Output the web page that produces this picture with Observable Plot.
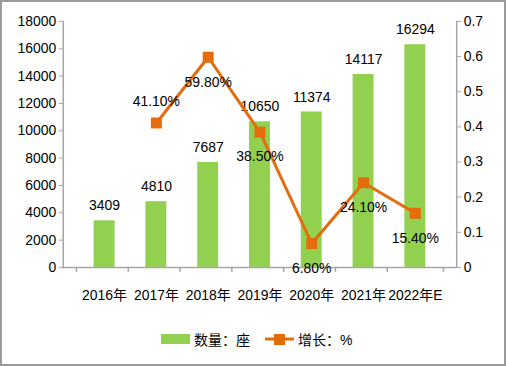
<!DOCTYPE html>
<html><head><meta charset="utf-8">
<script src="https://cdn.jsdelivr.net/npm/d3@7"></script>
<script src="https://cdn.jsdelivr.net/npm/@observablehq/plot@0.6"></script>
<style>
body{margin:0;background:#fff;}
#wrap{position:relative;width:502px;height:362px;border:2px solid #9a9a9a;overflow:hidden;font-family:"Liberation Sans","Noto Sans CJK SC",sans-serif;}
#chart{position:absolute;left:-2px;top:-2px;}
#legend{position:absolute;left:159px;top:327px;display:flex;align-items:center;font-size:14px;color:#000;}
.item{display:flex;align-items:center;}
</style></head>
<body><div id="wrap"><div id="chart"></div>
<div id="legend">
<div class="item"><svg width="30" height="12"><rect x="0" y="1" width="29" height="10" fill="#92D050"/></svg><span style="margin-left:3px">数量：座</span></div>
<div class="item" style="margin-left:14px"><svg width="32" height="14"><line x1="1" y1="7" x2="30" y2="7" stroke="#E46C0A" stroke-width="3"/><rect x="10" y="2" width="11" height="11" fill="#E46C0A"/></svg><span style="margin-left:2px">增长：%</span></div>
</div></div>
<script>
const years = ["2016年","2017年","2018年","2019年","2020年","2021年","2022年E"];
const counts = [3409,4810,7687,10650,11374,14117,16294];
const growthYears = ["2017年","2018年","2019年","2020年","2021年","2022年E"];
const growth = [0.411,0.598,0.385,0.068,0.241,0.154];
const growthLabels = ["41.10%","59.80%","38.50%","6.80%","24.10%","15.40%"];
const growthLabelSide = [-1,1,1,1,1,1];
const leftTicks = [0,2000,4000,6000,8000,10000,12000,14000,16000,18000];
const rightTicks = [0,0.1,0.2,0.3,0.4,0.5,0.6,0.7];
const rightTickLabels = ["0","0.1","0.2","0.3","0.4","0.5","0.6","0.7"];

const yMax = 18000, rMax = 0.7, k = yMax / rMax;
const bars = years.map((y,i)=>({year:y,value:counts[i]}));
const line = growthYears.map((y,i)=>({year:y,rate:growth[i],label:growthLabels[i],side:growthLabelSide[i]}));
const green = "#92D050", orange = "#E46C0A", axisGray = "#a6a6a6";
const W = 506, ML = 63, MR = 48;
const step = (W-ML-MR)/years.length;

const plot = Plot.plot({
  width: W, height: 320,
  marginLeft: ML, marginRight: MR, marginTop: 21, marginBottom: 52,
  style: {fontFamily: '"Liberation Sans","Noto Sans CJK SC",sans-serif', fontSize: "14px", color: "#000", background: "transparent"},
  x: {domain: years, padding: 0.59, align: 0.5, axis: null},
  y: {domain: [0, yMax], axis: null},
  marks: [
    Plot.barY(bars, {x: "year", y: "value", fill: green}),
    Plot.ruleY([0], {stroke: axisGray, strokeWidth: 1.5}),
    Plot.frame({anchor: "left", stroke: axisGray, strokeWidth: 1.5}),
    Plot.frame({anchor: "right", stroke: axisGray, strokeWidth: 1.5}),
    Plot.axisY(leftTicks, {anchor: "left", tickSize: 4, tickPadding: 3, stroke: axisGray, fill: "#000", fontSize: 14, label: null, tickFormat: d => String(d)}),
    Plot.axisY(rightTicks.map(t => t * k), {anchor: "right", tickSize: 4, tickPadding: 3, stroke: axisGray, fill: "#000", fontSize: 14, label: null, tickFormat: (d, i) => rightTickLabels[i]}),
    Plot.axisX(years, {tickSize: 5, dx: -step/2, stroke: axisGray, strokeWidth: 1.5, tickFormat: () => "", label: null}),
    Plot.axisX([years[years.length-1]], {tickSize: 5, dx: step/2, stroke: axisGray, strokeWidth: 1.5, tickFormat: () => "", label: null}),
    Plot.axisX({tickSize: 0, tickPadding: 23, fontSize: 14, fill: "#000", label: null}),
    Plot.text(bars, {x: "year", y: "value", text: d => String(d.value), dy: -15, fontSize: 14, fill: "#000"}),
    Plot.line(line, {x: "year", y: d => d.rate * k, stroke: orange, strokeWidth: 3}),
    Plot.dot(line, {x: "year", y: d => d.rate * k, symbol: "square", r: 6.2, fill: orange, stroke: null}),
    Plot.text(line, {x: "year", y: d => d.rate * k, text: "label", fontSize: 14, fill: "#000", filter: d => d.side < 0, dy: -22}),
    Plot.text(line, {x: "year", y: d => d.rate * k, text: "label", fontSize: 14, fill: "#000", filter: d => d.side > 0, dy: 25})
  ]
});
document.getElementById("chart").appendChild(plot);
</script></body></html>
